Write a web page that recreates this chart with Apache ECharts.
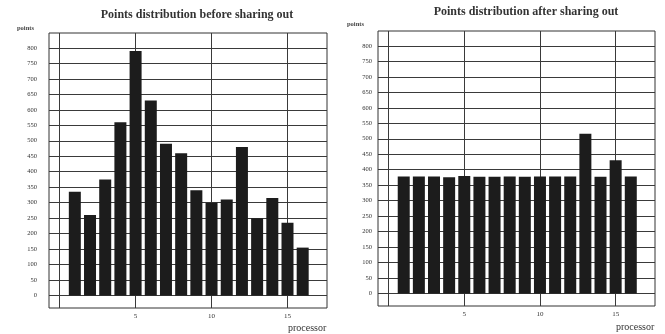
<!DOCTYPE html>
<html>
<head>
<meta charset="utf-8">
<script src="https://cdn.jsdelivr.net/npm/echarts@6/dist/echarts.min.js"></script>
<style>
html,body{margin:0;padding:0;background:#fff;}
#c{width:665px;height:334px;}
</style>
</head>
<body>
<div id="c"></div>
<script>
const processors = [1,2,3,4,5,6,7,8,9,10,11,12,13,14,15,16];
const pointsBefore = [335,260,375,560,790,630,490,460,340,300,310,480,250,315,235,155];
const pointsAfter = [378,378,378,376,380,377,377,378,377,378,378,378,516,377,431,378];
const yTicks = [0,50,100,150,200,250,300,350,400,450,500,550,600,650,700,750,800];
const xGridTicks = [0,5,10,15];
const xLabelTicks = [5,10,15];
const titles = ['Points distribution before sharing out','Points distribution after sharing out'];

const font = 'Liberation Serif';
const ink = '#1c1c1c';
const gridCol = '#3a3a3a';

function xAxis(gi){
  return {
    gridIndex: gi, type: 'value', min: -0.7, max: 17.6,
    axisLine: {show: false},
    axisTick: {show: false, customValues: xGridTicks},
    splitLine: {show: true, lineStyle: {color: gridCol, width: 1}},
    axisLabel: {customValues: xLabelTicks, margin: 5, fontSize: 7, color: '#333', fontFamily: font}
  };
}
function yAxis(gi, margin){
  return {
    gridIndex: gi, type: 'value', min: -40, max: 848,
    axisLine: {show: false},
    axisTick: {show: false, customValues: yTicks},
    splitLine: {show: true, lineStyle: {color: gridCol, width: 1}},
    axisLabel: {customValues: yTicks, margin: margin, fontSize: 6.5, color: '#333', fontFamily: font}
  };
}
const chart = echarts.init(document.getElementById('c'), null, {renderer: 'canvas'});
chart.setOption({
  backgroundColor: '#fff',
  animation: false,
  title: [
    {text: titles[0], left: 192, top: 4, textAlign: 'center', textStyle: {fontSize: 12, fontWeight: 'bold', color: '#333', fontFamily: font}},
    {text: titles[1], left: 521, top: 1, textAlign: 'center', textStyle: {fontSize: 12, fontWeight: 'bold', color: '#333', fontFamily: font}},
    {text: 'points', left: 12, top: 20, textStyle: {fontSize: 6.5, fontWeight: 'bold', color: '#444', fontFamily: font}},
    {text: 'points', left: 342, top: 16, textStyle: {fontSize: 6.5, fontWeight: 'bold', color: '#444', fontFamily: font}},
    {text: 'processor', left: 283, top: 318, textStyle: {fontSize: 10, fontWeight: 'normal', color: '#333', fontFamily: font}},
    {text: 'processor', left: 611, top: 317, textStyle: {fontSize: 10, fontWeight: 'normal', color: '#333', fontFamily: font}}
  ],
  grid: [
    {left: 49, top: 33, width: 278, height: 275, show: true, borderColor: '#333', borderWidth: 1, backgroundColor: 'transparent'},
    {left: 378, top: 31, width: 277, height: 275, show: true, borderColor: '#333', borderWidth: 1, backgroundColor: 'transparent'}
  ],
  xAxis: [xAxis(0), xAxis(1)],
  yAxis: [yAxis(0, 12), yAxis(1, 6)],
  series: [
    {type: 'bar', xAxisIndex: 0, yAxisIndex: 0, barWidth: 12,
     itemStyle: {color: ink}, data: processors.map((p, i) => [p, pointsBefore[i]])},
    {type: 'bar', xAxisIndex: 1, yAxisIndex: 1, barWidth: 12,
     itemStyle: {color: ink}, data: processors.map((p, i) => [p, pointsAfter[i]])}
  ]
});
</script>
</body>
</html>
